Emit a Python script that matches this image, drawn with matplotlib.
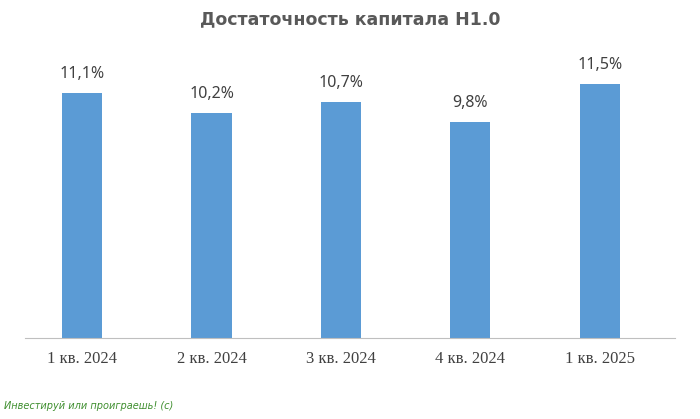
import matplotlib.pyplot as plt

quarters = ['1 кв. 2024', '2 кв. 2024', '3 кв. 2024', '4 кв. 2024', '1 кв. 2025']
values = [11.1, 10.2, 10.7, 9.8, 11.5]
labels = ['11,1%', '10,2%', '10,7%', '9,8%', '11,5%']

fig = plt.figure(figsize=(7, 4.19), dpi=100)
ax = fig.add_axes([0.036, 0.193, 0.928, 0.712])
x = range(len(quarters))
ax.bar(x, values, width=0.31, color='#5B9BD5')
for xi, v, lab in zip(x, values, labels):
    ax.text(xi, v + 0.5, lab, ha='center', va='bottom', fontsize=11.5,
            color='#404040', family='Noto Sans')
ax.set_xlim(-0.44, 4.58)
ax.set_ylim(0, 13.5)
ax.set_xticks(list(x))
ax.set_xticklabels(quarters, fontsize=12, color='#404040', family='Liberation Serif')
ax.tick_params(axis='x', length=0, pad=9)
ax.set_yticks([])
for s in ['top', 'right', 'left']:
    ax.spines[s].set_visible(False)
ax.spines['bottom'].set_color('#BFBFBF')
fig.text(0.5, 0.955, 'Достаточность капитала Н1.0', ha='center', va='center',
         fontsize=12.5, fontweight='bold', color='#595959')
fig.text(0.005, 0.02, 'Инвестируй или проиграешь! (с)', ha='left', va='bottom',
         fontsize=7, style='italic', color='#3E8E2E')
fig.savefig('out.png', dpi=100)
